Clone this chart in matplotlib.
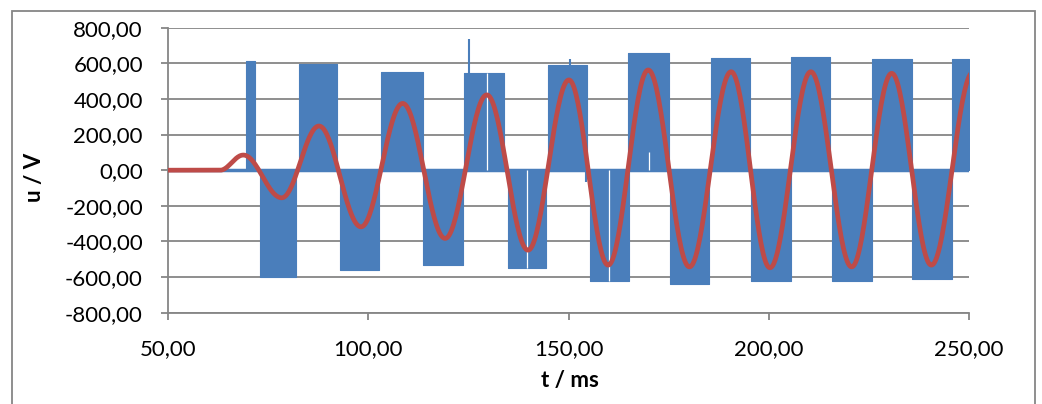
import matplotlib
matplotlib.use("Agg")
import matplotlib.pyplot as plt
import numpy as np
from matplotlib.ticker import FuncFormatter
from matplotlib.patches import Rectangle

plt.rcParams['font.family'] = ['Lato', 'DejaVu Sans']

# Blaue Kurve: PWM-Bloecke (Start, Ende in ms, Pegel in V)
block_start = [69.4, 73.0, 82.8, 93.0, 103.2, 113.6, 124.0, 134.8, 145.0, 155.4,
               164.9, 175.3, 185.6, 195.5, 205.6, 215.7, 225.7, 235.7, 245.7]
block_end = [71.7, 82.0, 92.3, 102.6, 113.6, 123.6, 134.0, 144.5, 154.5, 165.1,
             175.1, 185.2, 195.3, 205.5, 215.3, 225.7, 235.7, 245.7, 250.0]
block_level = [612, -600, 598, -562, 553, -533, 548, -548, 593, -620,
               656, -640, 630, -622, 635, -623, 623, -608, 625]

# einzelne Spitzen
spike_t = [125.2, 150.3, 154.3]
spike_v = [735, 625, -65]

# Luecken im Block (weisse Linien)
gap_t = [129.6, 139.7, 160.1, 170.2]
gap_lo = [0, -548, -620, 0]
gap_hi = [548, 0, 0, 100]

# Rote Kurve: Extremwerte der Grundschwingung
red_t = [50, 63, 68.8, 78.4, 87.7, 98.2, 108.6, 119.2, 129.6, 139.9, 150.1,
         159.9, 169.9, 180.2, 190.6, 200.3, 210.5, 220.7, 230.7, 240.6, 251.0]
red_v = [0, 0, 85, -155, 248, -318, 375, -383, 423, -449, 507,
         -533, 563, -543, 553, -548, 553, -543, 544, -533, 550]

blue = '#4A7EBB'
red = '#BE4B48'
grey = '#868686'

fig = plt.figure(figsize=(10.42, 4.04), dpi=100)
fig.set_facecolor('white')
ax = fig.add_axes([168/1042, 1-312.7/404, (969-168)/1042, (312.7-27.7)/404])

# Bloecke
for t0, t1, lv in zip(block_start, block_end, block_level):
    ax.fill_between([t0, t1], [0, 0], [lv, lv], color=blue, lw=0.8, zorder=2)
ax.plot([50, 250], [0, 0], color=blue, lw=2.5, zorder=2)
ax.vlines(spike_t, 0, spike_v, color=blue, lw=1.5, zorder=2)
ax.vlines(gap_t, gap_lo, gap_hi, color='white', lw=0.9, zorder=2.5)

# rote Kurve zwischen den Extremwerten (Halbkosinus)
rt, rv = [], []
for i in range(len(red_t) - 1):
    s = np.linspace(0, 1, 40)
    rt.append(red_t[i] + (red_t[i+1] - red_t[i]) * s)
    rv.append(red_v[i] + (red_v[i+1] - red_v[i]) * (1 - np.cos(np.pi * s)) / 2)
ax.plot(np.concatenate(rt), np.concatenate(rv), color=red, lw=3.4, zorder=3)

ax.set_xlim(50, 250)
ax.set_ylim(-800, 800)
ax.set_xticks([50, 100, 150, 200, 250])
ax.set_yticks(range(-800, 801, 200))
fmt = FuncFormatter(lambda v, p: '{0:.2f}'.format(v).replace('.', ','))
ax.xaxis.set_major_formatter(fmt)
ax.yaxis.set_major_formatter(fmt)
ax.grid(axis='y', color=grey, lw=1.3, zorder=0)
ax.set_axisbelow(True)
for s in ['top', 'right']:
    ax.spines[s].set_visible(False)
for s in ['left', 'bottom']:
    ax.spines[s].set_color(grey)
    ax.spines[s].set_linewidth(1.3)
ax.tick_params(axis='both', colors=grey, labelcolor='black', labelsize=16,
               length=5, width=1.3)
ax.tick_params(axis='x', pad=14)
ax.tick_params(axis='y', pad=13)

fig.text(570/1042, 1-381/404, 't / ms', ha='center', va='center',
         fontsize=16, fontweight='bold')
fig.text(35/1042, 1-177/404, 'u / V', ha='center', va='center',
         fontsize=16, fontweight='bold', rotation=90)

# Rahmen
fig.patches.append(Rectangle((12/1042, -0.05), (1035-12)/1042, 1.05-11/404,
                             transform=fig.transFigure, fill=False,
                             edgecolor=grey, lw=1.3))

fig.savefig('out.png', dpi=100)
